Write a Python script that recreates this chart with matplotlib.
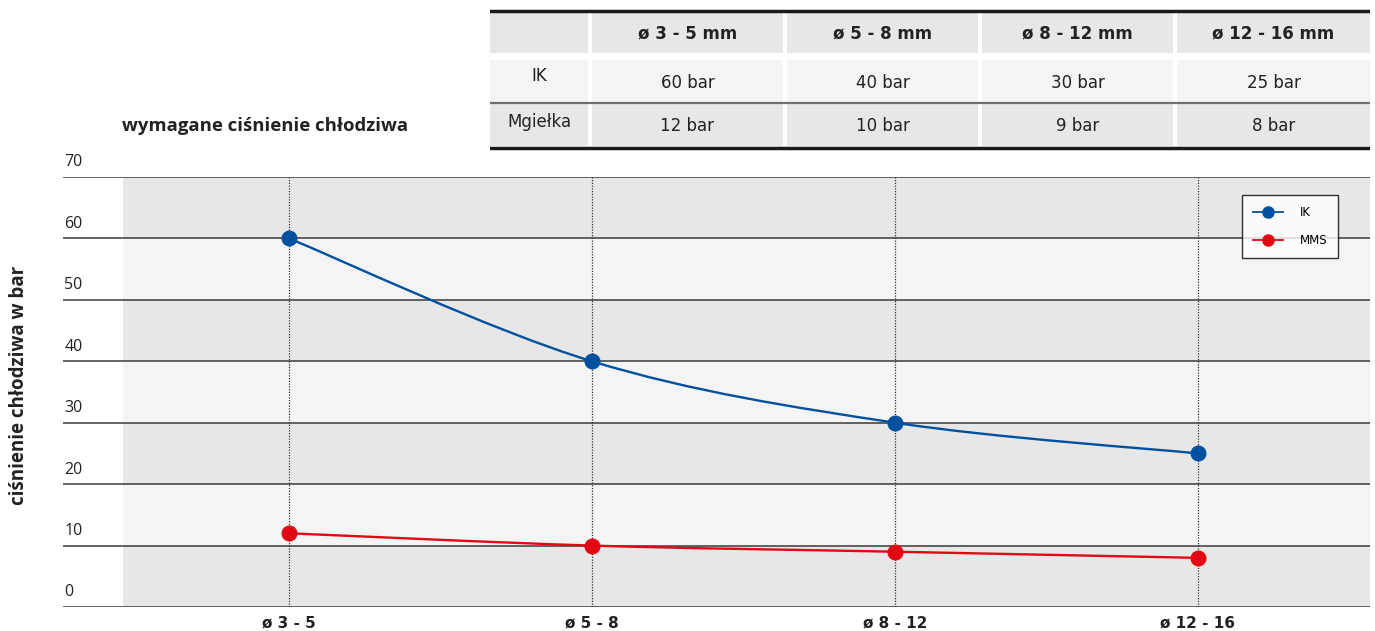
import matplotlib
matplotlib.use("Agg")
import matplotlib.pyplot as plt
from matplotlib.path import Path
from matplotlib.patches import PathPatch, Rectangle
from matplotlib.lines import Line2D

# data
categories = ["ø 3 - 5", "ø 5 - 8", "ø 8 - 12", "ø 12 - 16"]
ik_values = [60, 40, 30, 25]
mms_values = [12, 10, 9, 8]
series_names = ["IK", "MMS"]

table_header = ["ø 3 - 5 mm", "ø 5 - 8 mm", "ø 8 - 12 mm", "ø 12 - 16 mm"]
table_rows = ["IK", "Mgiełka"]
table_ik = ["60 bar", "40 bar", "30 bar", "25 bar"]
table_mist = ["12 bar", "10 bar", "9 bar", "8 bar"]

y_ticks = [0, 10, 20, 30, 40, 50, 60, 70]

BLUE = "#0050a0"
RED = "#e30613"
GRAY = "#e7e7e7"
LIGHT = "#f4f4f4"
NARROW = ["Liberation Sans Narrow", "DejaVu Sans"]
SANS = ["Open Sans", "DejaVu Sans"]

W, H = 1375, 631


def px_box(x0, y0, x1, y1):
    # pixel box (top-left origin) -> figure fraction rect
    return [x0 / W, 1 - y1 / H, (x1 - x0) / W, (y1 - y0) / H]


def smooth_path(xs, ys):
    # catmull-rom style bezier through the points
    pts = list(zip(xs, ys))
    verts = [pts[0]]
    codes = [Path.MOVETO]
    n = len(pts)
    for i in range(n - 1):
        p0 = pts[i - 1] if i > 0 else pts[i]
        p1 = pts[i]
        p2 = pts[i + 1]
        p3 = pts[i + 2] if i + 2 < n else pts[i + 1]
        c1 = (p1[0] + (p2[0] - p0[0]) / 6, p1[1] + (p2[1] - p0[1]) / 6)
        c2 = (p2[0] - (p3[0] - p1[0]) / 6, p2[1] - (p3[1] - p1[1]) / 6)
        verts += [c1, c2, p2]
        codes += [Path.CURVE4] * 3
    return Path(verts, codes)


fig = plt.figure(figsize=(W / 100, H / 100), dpi=100)

# ---- main chart ----
ax = fig.add_axes(px_box(63, 177, 1370, 607))
ax.set_xlim(-0.746, 3.568)
ax.set_ylim(0, 70)
ax.axis("off")

x = list(range(len(categories)))
shade_start = (123 - 63) / (1370 - 63)
for i in range(len(y_ticks) - 1):
    lo, hi = y_ticks[i], y_ticks[i + 1]
    ax.axhspan(lo, hi, xmin=shade_start, xmax=1, color=GRAY if i % 2 == 0 else LIGHT, lw=0, zorder=0)

for v in y_ticks:
    ax.axhline(v, color="#3a3a3a", lw=1.1, zorder=1)
    ax.annotate(str(v), xy=(0, v), xycoords=("axes fraction", "data"),
                xytext=(1, 10.5), textcoords="offset points", va="center", ha="left",
                fontsize=11.5, family=SANS, color="#222222")

for xi, lab in zip(x, categories):
    ax.plot([xi, xi], [0, 70], color="#333333", lw=0.9, ls=(0, (1, 1.2)), zorder=2)
    ax.annotate(lab, xy=(xi, 0), xycoords="data", xytext=(0, -11.5), textcoords="offset points",
                ha="center", va="center", fontsize=11, fontweight="bold", family=NARROW, color="#222222")

for vals, col in [(ik_values, BLUE), (mms_values, RED)]:
    ax.add_patch(PathPatch(smooth_path(x, vals), facecolor="none", edgecolor=col, lw=1.7, zorder=3))
    ax.plot(x, vals, ls="none", marker="o", ms=10.5, color=col, zorder=4)

handles = [Line2D([], [], color=BLUE, marker="o", ms=8, lw=1.3),
           Line2D([], [], color=RED, marker="o", ms=8, lw=1.3)]
leg = ax.legend(handles, series_names, loc="upper right", bbox_to_anchor=(0.9755, 0.958),
                frameon=True, fancybox=False, edgecolor="black", fontsize=8.5,
                handlelength=2.6, borderpad=0.9, labelspacing=1.3, handletextpad=1.4,
                borderaxespad=0)
leg.get_frame().set_linewidth(1.0)
leg.set_zorder(5)

fig.text(19 / W, 1 - 385 / H, "ciśnienie chłodziwa w bar", rotation=90, ha="center", va="center",
         fontsize=13.5, fontweight="bold", family=SANS, color="#222222")
fig.text(122 / W, 1 - 126 / H, "wymagane ciśnienie chłodziwa", ha="left", va="center",
         fontsize=13.3, fontweight="bold", family=SANS, color="#222222")

# ---- table ----
tx = fig.add_axes(px_box(490, 8, 1370, 152))
tx.set_xlim(490, 1370)
tx.set_ylim(152, 8)
tx.axis("off")

col_edges = [(490, 588), (592, 783), (787, 978), (982, 1173), (1177, 1370)]
row_spans = [(13, 53, GRAY), (60, 102, LIGHT), (104, 146, GRAY)]
for y0, y1, c in row_spans:
    for c0, c1 in col_edges:
        tx.add_patch(Rectangle((c0, y0), c1 - c0, y1 - y0, facecolor=c, lw=0))

tx.plot([490, 1370], [11, 11], color="#1a1a1a", lw=2.5)
tx.plot([490, 1370], [103, 103], color="#6f6f6f", lw=1.6)
tx.plot([490, 1370], [148, 148], color="#1a1a1a", lw=2.5)

centers = [(c0 + c1) / 2 for c0, c1 in col_edges]
for cx, txt in zip(centers[1:], table_header):
    tx.text(cx, 33, txt, ha="center", va="center", fontsize=12, fontweight="bold",
            family=NARROW, color="#222222")
for cx, txt in zip(centers[1:], table_ik):
    tx.text(cx, 83, txt, ha="center", va="center", fontsize=12, family=NARROW, color="#222222")
for cx, txt in zip(centers[1:], table_mist):
    tx.text(cx, 126, txt, ha="center", va="center", fontsize=12, family=NARROW, color="#222222")
tx.text(centers[0], 76, table_rows[0], ha="center", va="center", fontsize=12, family=NARROW, color="#222222")
tx.text(centers[0], 122, table_rows[1], ha="center", va="center", fontsize=12, family=NARROW, color="#222222")

fig.savefig("out.png", dpi=100)
